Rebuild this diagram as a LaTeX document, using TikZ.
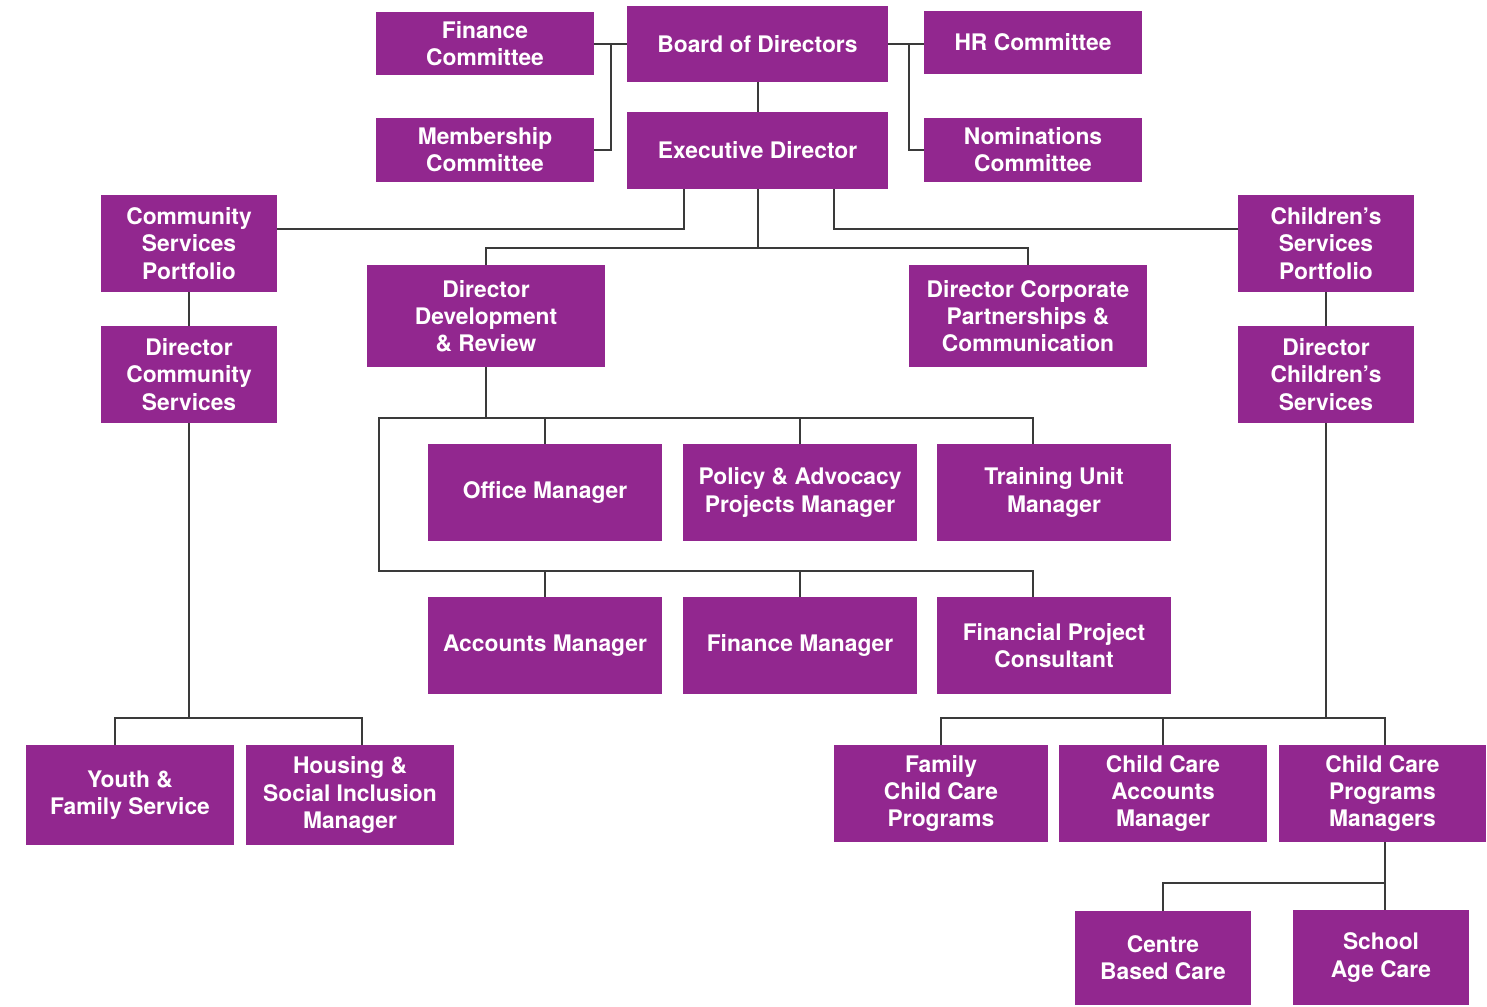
\documentclass[tikz,border=0pt]{standalone}
\usepackage{fontspec}
\setmainfont{TeX Gyre Heros}
\definecolor{orgpurple}{RGB}{146,39,143}
\definecolor{orgline}{RGB}{58,58,58}
\tikzset{
  unit/.style={fill=orgpurple, text=white, align=center, inner sep=0pt,
    font=\bfseries\fontsize{11.4}{13.6}\selectfont},
  boxsize/.style 2 args={minimum width=#1, minimum height=#2},
  link/.style={draw=orgline, line width=1pt}
}
\begin{document}
\begin{tikzpicture}[x=0.5pt,y=-0.5pt]
\useasboundingbox (0,0) rectangle (1487,1006);
\node[unit, boxsize={109pt}{31.5pt}] (fin) at (485,43.5) {Finance\\Committee};
\node[unit, boxsize={130.5pt}{38pt}] (brd) at (757.5,44) {Board of Directors};
\node[unit, boxsize={109pt}{31.5pt}] (hrc) at (1033,42.5) {HR Committee};
\node[unit, boxsize={109pt}{32pt}] (mem) at (485,150) {Membership\\Committee};
\node[unit, boxsize={130.5pt}{38.5pt}] (exe) at (757.5,150.5) {Executive Director};
\node[unit, boxsize={109pt}{32pt}] (nom) at (1033,150) {Nominations\\Committee};
\node[unit, boxsize={88pt}{48.5pt}] (csp) at (189,243.5) {Community\\Services\\Portfolio};
\node[unit, boxsize={88pt}{48.5pt}] (chp) at (1326,243.5) {Children’s\\Services\\Portfolio};
\node[unit, boxsize={119pt}{51pt}] (ddr) at (486,316) {Director\\Development\\\& Review};
\node[unit, boxsize={119pt}{51pt}] (dcp) at (1028,316) {Director Corporate\\Partnerships \&\\Communication};
\node[unit, boxsize={88pt}{48.5pt}] (dcs) at (189,374.5) {Director\\Community\\Services};
\node[unit, boxsize={88pt}{48.5pt}] (chd) at (1326,374.5) {Director\\Children’s\\Services};
\node[unit, boxsize={117pt}{48.5pt}] (off) at (545,492.5) {Office Manager};
\node[unit, boxsize={117pt}{48.5pt}] (pol) at (800,492.5) {Policy \& Advocacy\\Projects Manager};
\node[unit, boxsize={117pt}{48.5pt}] (trn) at (1054,492.5) {Training Unit\\Manager};
\node[unit, boxsize={117pt}{48.5pt}] (acc) at (545,645.5) {Accounts Manager};
\node[unit, boxsize={117pt}{48.5pt}] (fmg) at (800,645.5) {Finance Manager};
\node[unit, boxsize={117pt}{48.5pt}] (fpc) at (1054,645.5) {Financial Project\\Consultant};
\node[unit, boxsize={104pt}{50pt}] (you) at (130,795) {Youth \&\\Family Service};
\node[unit, boxsize={104pt}{50pt}] (hou) at (350,795) {Housing \&\\Social Inclusion\\Manager};
\node[unit, boxsize={107pt}{48.5pt}] (fcc) at (941,793.5) {Family\\Child Care\\Programs};
\node[unit, boxsize={104pt}{48.5pt}] (cca) at (1163,793.5) {Child Care\\Accounts\\Manager};
\node[unit, boxsize={103.5pt}{48.5pt}] (ccp) at (1382.5,793.5) {Child Care\\Programs\\Managers};
\node[unit, boxsize={88pt}{47pt}] (cbc) at (1163,958) {Centre\\Based Care};
\node[unit, boxsize={88pt}{47.5pt}] (sac) at (1381,957.5) {School\\Age Care};
\coordinate (bus1) at (379,418);
\coordinate (bus2) at (379,571);
\draw[link] (brd.west) -- (brd.west -| fin.east);
\draw[link] (fin.east) ++(17,0) |- (mem.east);
\draw[link] (brd.east) -- (brd.east -| hrc.west);
\draw[link] (brd.east) ++(21,0) |- (nom.west);
\draw[link] (brd.south) -- (exe.north);
\draw[link] ([shift={(0,-14.5)}]csp.east) -| ([shift={(-74,0)}]exe.south);
\draw[link] ([shift={(0,-14.5)}]chp.west) -| ([shift={(76,0)}]exe.south);
\draw[link] (exe.south) -- ++(0,59);
\draw[link] (ddr.north) -- ++(0,-17) -| (dcp.north);
\draw[link] (csp.south) -- (dcs.north);
\draw[link] (chp.south) -- (chd.north);
\draw[link] (ddr.south) -- (ddr.south |- bus1);
\draw[link] ([shift={(-21,0)}]trn.north) |- (bus1) -- (bus2) -| ([shift={(-21,0)}]fpc.north);
\draw[link] (off.north) -- (off.north |- bus1);
\draw[link] (pol.north) -- (pol.north |- bus1);
\draw[link] (acc.north) -- (acc.north |- bus2);
\draw[link] (fmg.north) -- (fmg.north |- bus2);
\draw[link] (dcs.south) -- ++(0,295);
\draw[link] ([shift={(-15,0)}]you.north) -- ++(0,-27) -| ([shift={(12,0)}]hou.north);
\draw[link] (chd.south) -- ++(0,295);
\draw[link] (fcc.north) -- ++(0,-27) -| ([shift={(2.5,0)}]ccp.north);
\draw[link] (cca.north) -- ++(0,-27);
\draw[link] ([shift={(2.5,0)}]ccp.south) -- ([shift={(4,0)}]sac.north);
\draw[link] (cbc.north) |- ([shift={(2.5,41)}]ccp.south);
\end{tikzpicture}
\end{document}
